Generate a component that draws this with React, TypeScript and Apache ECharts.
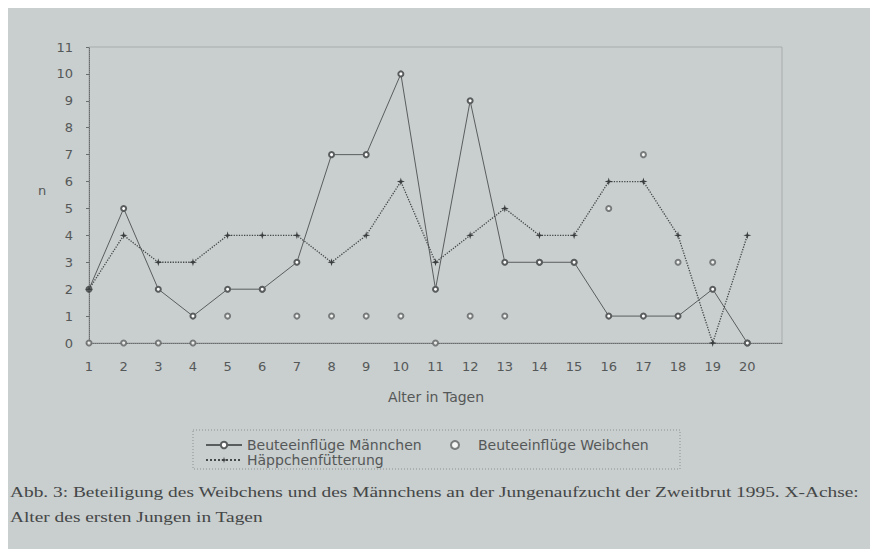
import React, { useEffect, useRef } from "react";
import * as echarts from "echarts";

const days = [1, 2, 3, 4, 5, 6, 7, 8, 9, 10, 11, 12, 13, 14, 15, 16, 17, 18, 19, 20];
const maennchen = [2, 5, 2, 1, 2, 2, 3, 7, 7, 10, 2, 9, 3, 3, 3, 1, 1, 1, 2, 0];
const weibchen = [0, 0, 0, 0, 1, 2, 1, 1, 1, 1, 0, 1, 1, 3, 3, 5, 7, 3, 3, 0];
const haeppchen = [2, 4, 3, 3, 4, 4, 4, 3, 4, 6, 3, 4, 5, 4, 4, 6, 6, 4, 0, 4];
const yTicks = [0, 1, 2, 3, 4, 5, 6, 7, 8, 9, 10, 11];

const nameM = "Beuteeinflüge Männchen";
const nameW = "Beuteeinflüge Weibchen";
const nameH = "Häppchenfütterung";
const yName = "n";
const xName = "Alter in Tagen";
const caption1 =
  "Abb. 3: Beteiligung des Weibchens und des Männchens an der Jungenaufzucht der Zweitbrut 1995. X-Achse:";
const caption2 = "Alter des ersten Jungen in Tagen";

const STAR = "path://M5 0 L6 3.8 L10 5 L6 6.2 L5 10 L4 6.2 L0 5 L4 3.8 Z";

export default function App() {
  const ref = useRef<HTMLDivElement>(null);
  useEffect(() => {
    if (!ref.current) return;
    const chart = echarts.init(ref.current, null, { renderer: "svg" });
    const capFont = '15px "Liberation Serif"';
    let capScale = 1.2;
    try {
      const ctx = document.createElement("canvas").getContext("2d");
      if (ctx) {
        ctx.font = capFont;
        const w = ctx.measureText(caption1).width;
        if (w > 0) capScale = 850 / w;
      }
    } catch (e) {}
    const pair = (arr: number[]) => days.map((d, i) => [d, arr[i]]);
    const txt = "#555858";
    const legendText = { color: txt, fontSize: 14, fontFamily: "DejaVu Sans" };
    const option: any = {
      animation: false,
      backgroundColor: "transparent",
      textStyle: { fontFamily: "DejaVu Sans" },
      grid: {
        left: 89,
        right: 88,
        top: 47,
        bottom: 206,
        show: true,
        borderColor: "#a8adad",
        borderWidth: 1,
      },
      xAxis: {
        type: "value",
        min: 1,
        max: 21,
        interval: 1,
        axisLine: { show: true, onZero: false, lineStyle: { color: "#6a6d6d", width: 1, type: "dotted" } },
        axisTick: { show: false },
        splitLine: { show: false },
        axisLabel: {
          color: txt,
          fontSize: 13,
          fontFamily: "DejaVu Sans",
          margin: 17,
          formatter: (v: number) => (v === 21 ? "" : String(v)),
        },
      },
      yAxis: {
        type: "value",
        min: yTicks[0],
        max: yTicks[yTicks.length - 1],
        interval: 1,
        axisLine: { show: true, lineStyle: { color: "#6a6d6d", width: 1, type: "dotted" } },
        axisTick: { show: true, length: 3, lineStyle: { color: "#6a6d6d" } },
        splitLine: { show: false },
        axisLabel: { color: txt, fontSize: 13, fontFamily: "DejaVu Sans", margin: 16 },
      },
      legend: [
        {
          data: [nameM],
          left: 200,
          top: 433,
          itemWidth: 36,
          itemHeight: 8,
          textStyle: legendText,
          selectedMode: false,
        },
        {
          data: [nameW],
          left: 445,
          top: 433,
          itemWidth: 36,
          itemHeight: 8,
          textStyle: legendText,
          selectedMode: false,
        },
        {
          data: [nameH],
          left: 200,
          top: 448,
          itemWidth: 36,
          itemHeight: 8,
          textStyle: legendText,
          selectedMode: false,
        },
      ],
      graphic: [
        {
          type: "rect",
          z: -10,
          shape: { x: 8, y: 8, width: 862, height: 541 },
          style: { fill: "#c9cece" },
        },
        {
          type: "rect",
          shape: { x: 193, y: 430, width: 487, height: 39 },
          style: { fill: "none", stroke: "#8c9090", lineWidth: 1, lineDash: [1, 2] },
        },
        {
          type: "text",
          x: 42,
          y: 190,
          style: {
            text: yName,
            fill: txt,
            fontSize: 13,
            fontFamily: "DejaVu Sans",
            align: "center",
            verticalAlign: "middle",
          },
        },
        {
          type: "text",
          x: 436,
          y: 397,
          style: {
            text: xName,
            fill: txt,
            fontSize: 14,
            fontFamily: "DejaVu Sans",
            align: "center",
            verticalAlign: "middle",
          },
        },
        {
          type: "text",
          x: 10,
          y: 492,
          scaleX: capScale,
          style: {
            text: caption1,
            fill: "#444747",
            fontSize: 15,
            fontFamily: "Liberation Serif",
            verticalAlign: "middle",
          },
        },
        {
          type: "text",
          x: 10,
          y: 517,
          scaleX: capScale,
          style: {
            text: caption2,
            fill: "#444747",
            fontSize: 15,
            fontFamily: "Liberation Serif",
            verticalAlign: "middle",
          },
        },
      ],
      series: [
        {
          name: nameM,
          type: "line",
          data: pair(maennchen),
          symbol: "emptyCircle",
          symbolSize: 5,
          lineStyle: { color: "#5a5d5d", width: 1 },
          itemStyle: { color: "#5a5d5d", borderColor: "#5a5d5d", borderWidth: 1 },
          z: 3,
        },
        {
          name: nameW,
          type: "scatter",
          data: pair(weibchen),
          symbol: "emptyCircle",
          symbolSize: 5,
          itemStyle: { color: "#606363", borderColor: "#606363", borderWidth: 1 },
          z: 2,
        },
        {
          name: nameH,
          type: "line",
          data: pair(haeppchen),
          symbol: STAR,
          symbolSize: 8,
          lineStyle: { color: "#454848", width: 1.3, type: "dotted" },
          itemStyle: { color: "#3a3d3d" },
          z: 4,
        },
      ],
    };
    chart.setOption(option);
    return () => chart.dispose();
  }, []);
  return (
    <div
      ref={ref}
      style={{ position: "absolute", left: 0, top: 0, width: 870, height: 549, background: "#ffffff" }}
    />
  );
}
